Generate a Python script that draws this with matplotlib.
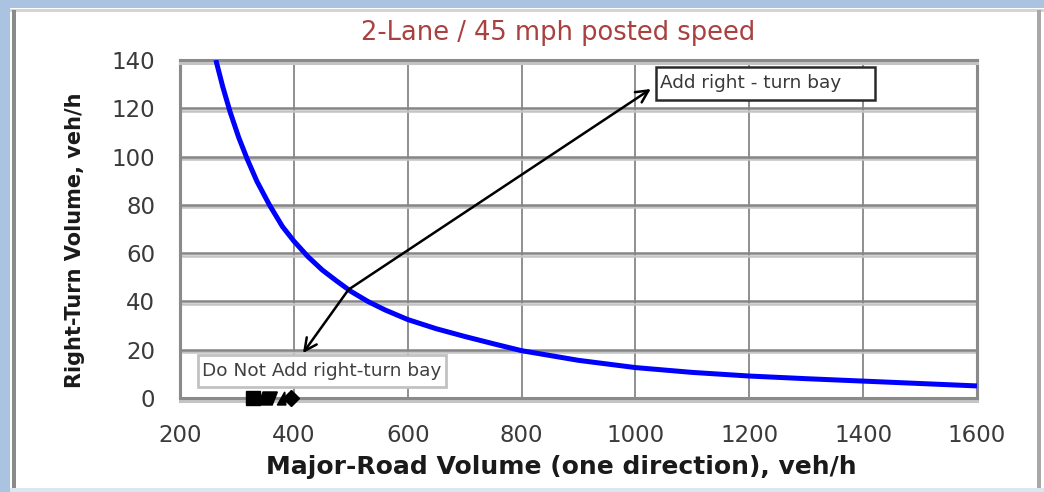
import matplotlib.pyplot as plt
import matplotlib.patheffects as pe
from matplotlib.patches import Rectangle, Polygon

# right-turn bay warrant curve, 2-lane road at 45 mph
major_volume = [263, 275, 288, 303, 318, 335, 357, 380, 400, 425, 450, 475, 500, 530,
                560, 600, 650, 700, 750, 800, 900, 1000, 1100, 1200, 1300, 1400, 1500, 1600]
right_turn_volume = [140, 129, 118.5, 108, 99, 89.8, 80, 71, 65, 58.5, 53, 48.5, 44.2, 40,
                     36.5, 32.5, 28.7, 25.5, 22.5, 19.6, 15.6, 12.6, 10.6, 9.1, 8.0, 7.0, 6.0, 5.0]

x_ticks = [200, 400, 600, 800, 1000, 1200, 1400, 1600]
y_ticks = [0, 20, 40, 60, 80, 100, 120, 140]

# arrows start on the curve and point into each region
arrow_origin = (496, 44.9)
arrow_low = (416, 18.6)
arrow_high = (1027, 128)

plt.rcParams['font.family'] = ['DejaVu Sans']

fig = plt.figure(figsize=(10.44, 4.92), dpi=100)
W, H = 1044, 492


def px_rect(x, y, w, h, color):
    # rectangle in pixel coords, y measured from the top
    fig.add_artist(Rectangle((x / W, 1 - (y + h) / H), w / W, h / H,
                             transform=fig.transFigure, color=color, lw=0, zorder=0))


# window frame
px_rect(0, 0, W, 8, '#a9c3e0')
px_rect(0, 0, 10, H, '#a9c3e0')
px_rect(10, 9, W - 10, 3, '#d4d4d4')
px_rect(12, 10, 4, H - 10, '#8a8a8a')
px_rect(1037, 10, 4, H - 10, '#a8a8a8')
px_rect(10, 488, W - 10, 4, '#dbe6f2')

ax = fig.add_axes([180 / W, 1 - 398 / H, 797 / W, 338 / H])
ax.set_xlim(200, 1600)
ax.set_ylim(0, 140)

shadow = [pe.SimpleLineShadow(offset=(0.3, -1.8), shadow_color='#c4c4c4', alpha=1), pe.Normal()]
ax.yaxis.grid(True, color='#858585', lw=1.8, path_effects=shadow)
ax.xaxis.grid(True, color='#878787', lw=1.3)
ax.set_axisbelow(True)
for s in ax.spines.values():
    s.set_color('#8a8a8a')
    s.set_linewidth(2.2)
    s.set_path_effects(shadow)

ax.set_xticks(x_ticks)
ax.set_yticks(y_ticks)
ax.tick_params(length=0, labelsize=16.5, labelcolor='#3a3a3a')
ax.tick_params(axis='x', pad=19)
ax.tick_params(axis='y', pad=18)

ax.plot(major_volume, right_turn_volume, color='#0000ff', lw=3.6,
        solid_capstyle='butt', solid_joinstyle='round', zorder=3)

for tip in (arrow_low, arrow_high):
    ax.annotate('', xy=tip, xytext=arrow_origin,
                arrowprops=dict(arrowstyle='->', color='black', lw=1.8,
                                mutation_scale=22, shrinkA=0, shrinkB=0), zorder=4)

# label boxes
ax.add_patch(Rectangle((1036, 123.4), 384, 13.6, facecolor='white',
                       edgecolor='#2a2a2a', lw=1.8, zorder=5))
ax.text(1044, 130.3, 'Add right - turn bay', fontsize=13.3, color='#383838',
        va='center', ha='left', zorder=6)
ax.add_patch(Rectangle((232, 4.6), 435, 13.2, facecolor='white',
                       edgecolor='#c2c2c2', lw=2, zorder=5, clip_on=False))
ax.text(239, 11.2, 'Do Not Add right-turn bay', fontsize=13.3, color='#404040',
        va='center', ha='left', zorder=6)

# small black symbols sitting on the baseline
ax.plot([328], [-0.2], marker='s', ms=10.5, color='black', clip_on=False, zorder=6)
ax.add_patch(Polygon([(337, -2.9), (362, -2.9), (371, 2.5), (346, 2.5)], closed=True,
                     color='black', clip_on=False, zorder=6))
ax.add_patch(Polygon([(371, -2.9), (386, -2.9), (384, 2.5)], closed=True,
                     color='black', clip_on=False, zorder=6))
ax.plot([395], [0], marker='D', ms=8, color='black', clip_on=False, zorder=6)

fig.text(558 / W, 1 - 33 / H, '2-Lane / 45 mph posted speed', fontsize=18.5,
         color='#a8413f', ha='center', va='center')
ax.set_xlabel('Major-Road Volume (one direction), veh/h', fontsize=18,
              fontweight='bold', color='#1a1a1a')
ax.xaxis.set_label_coords((561 - 180) / 797, (398 - 467) / 338)
ax.set_ylabel('Right-Turn Volume, veh/h', fontsize=15, fontweight='bold',
              color='#1a1a1a')
ax.yaxis.set_label_coords((75 - 180) / 797, (398 - 240) / 338)
ax.xaxis.label.set_va('center')
ax.yaxis.label.set_va('center')

fig.savefig('out.png', dpi=100)
